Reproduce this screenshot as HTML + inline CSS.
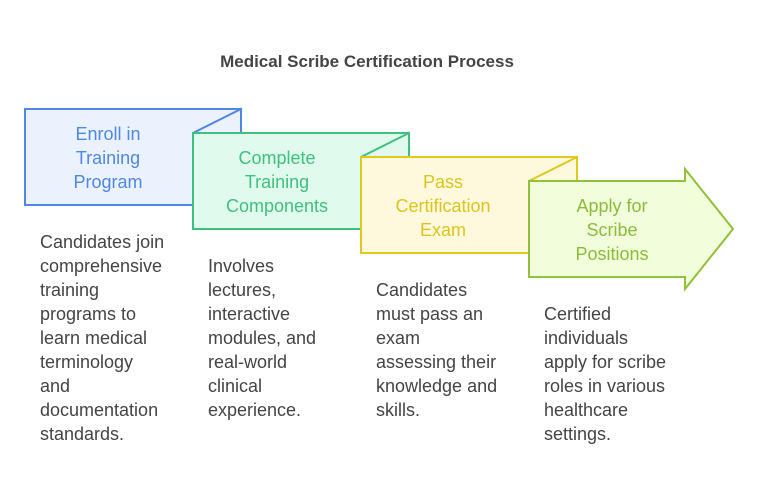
<!DOCTYPE html>
<html><head><style>
body{margin:0;background:#fff;}
svg text{font-family:"Liberation Sans",sans-serif;}
</style></head><body>
<svg width="759" height="494" viewBox="0 0 759 494" xmlns="http://www.w3.org/2000/svg">
<text x="367" y="67" text-anchor="middle" font-size="17" font-weight="bold" fill="#444">Medical Scribe Certification Process</text>
<g stroke-width="2">
<path d="M25,109 H241 V205 H25 Z" fill="#ebf2fe" stroke="#4e88e6"/>
<path d="M193,133 L241,109 V133 Z" fill="#ebf2fe" stroke="#4e88e6"/>
<path d="M193,133 H409 V229 H193 Z" fill="#e0fbee" stroke="#3fc07e"/>
<path d="M361,157 L409,133 V157 Z" fill="#e0fbee" stroke="#3fc07e"/>
<path d="M361,157 H577 V253 H361 Z" fill="#fef9dc" stroke="#e0c81c"/>
<path d="M529,181 L577,157 V181 Z" fill="#fef9dc" stroke="#e0c81c"/>
<path d="M529,181 H685 V169 L733,229 L685,289 V277 H529 Z" fill="#f2fddc" stroke="#92c03a"/>
</g>
<g font-size="18" text-anchor="middle">
<g fill="#4e88e6"><text x="108" y="140">Enroll in</text><text x="108" y="164">Training</text><text x="108" y="188">Program</text></g>
<g fill="#3fc07e"><text x="277" y="164">Complete</text><text x="277" y="188">Training</text><text x="277" y="212">Components</text></g>
<g fill="#dcc41c"><text x="443" y="188">Pass</text><text x="443" y="212">Certification</text><text x="443" y="236">Exam</text></g>
<g fill="#8cbc3a"><text x="612" y="212">Apply for</text><text x="612" y="236">Scribe</text><text x="612" y="260">Positions</text></g>
</g>
<g font-size="18" fill="#444">
<text x="40" y="248">Candidates join</text><text x="40" y="272">comprehensive</text><text x="40" y="296">training</text><text x="40" y="320">programs to</text><text x="40" y="344">learn medical</text><text x="40" y="368">terminology</text><text x="40" y="392">and</text><text x="40" y="416">documentation</text><text x="40" y="440">standards.</text>
<text x="208" y="272">Involves</text><text x="208" y="296">lectures,</text><text x="208" y="320">interactive</text><text x="208" y="344">modules, and</text><text x="208" y="368">real-world</text><text x="208" y="392">clinical</text><text x="208" y="416">experience.</text>
<text x="376" y="296">Candidates</text><text x="376" y="320">must pass an</text><text x="376" y="344">exam</text><text x="376" y="368">assessing their</text><text x="376" y="392">knowledge and</text><text x="376" y="416">skills.</text>
<text x="544" y="320">Certified</text><text x="544" y="344">individuals</text><text x="544" y="368">apply for scribe</text><text x="544" y="392">roles in various</text><text x="544" y="416">healthcare</text><text x="544" y="440">settings.</text>
</g>
</svg>
</body></html>
